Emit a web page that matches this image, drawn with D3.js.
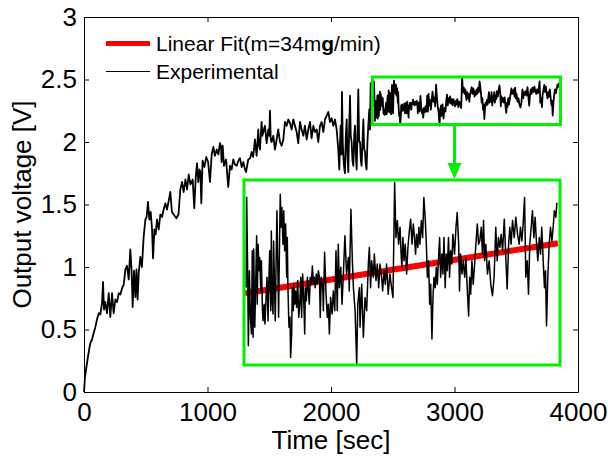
<!DOCTYPE html>
<html><head><meta charset="utf-8">
<script src="https://cdn.jsdelivr.net/npm/d3@7"></script>
<style>html,body{margin:0;padding:0;background:#fff}</style>
</head><body><svg id="chart" width="608" height="456"></svg>
<script>
// ---------- data ----------
const xTicks = [0, 1000, 2000, 3000, 4000];
const xTickLabels = ["0", "1000", "2000", "3000", "4000"];
const yTicks = [0, 0.5, 1, 1.5, 2, 2.5, 3];
const yTickLabels = ["0", "0.5", "1", "1.5", "2", "2.5", "3"];

// Experimental trace, first part (sec, V)
const earlyTime = [
  0,8,24,40,51,65,78,92,105,119,
  132,146,154,162,172,186,200,213,227,240,
  254,268,281,295,308,322,335,348,362,375,
  385,394,405,416,425,434,443,456,469,483,
  497,507,518,529,540,551,559,570,580,591,
  605,618,632,645,659,672,686,699,712,726,
  748,765,780,794,807,821,835,848,862,880,
  893,905,915,925,935,942,950,960,975,990,
  1005,1020,1034,1047,1060,1075,1088,1101,1110,1114,
  1123,1133,1150,1168,1182,1195,1209,1222,1236,1250,
  1263,1277,1290,1301,1312,1330,1345,1357,1370,1384,
  1398,1411,1418,1425,1438,1445,1452,1465,1479,1492,
  1500,1506,1512,1519,1533,1546,1560,1573,1587,1600,
  1614,1627,1641,1654,1668,1681,1695,1708,1722,1735,
  1749,1762,1776,1789,1803,1816,1830,1843,1857,1870,
  1884,1897,1911,1924,1938,1951,1965,1978,1992,2005,
  2019,2032,2046,2059,2067,2072,2078,2084,2089,2095,
  2100,2106,2113,2120,2127,2133,2140,2147,2154,2160,
  2167,2174,2181,2188,2194,2201,2208,2215,2221,2228,
  2235,2242,2248,2255,2262,2268,2275,2282,2288,2295,
  2302,2310,2316,2321,2330
];
const earlyVoltage = [
  0.00,0.12,0.23,0.33,0.39,0.42,0.47,0.52,0.58,0.63,
  0.62,0.71,0.88,0.66,0.72,0.63,0.79,0.60,0.79,0.63,
  0.74,0.72,0.79,0.78,0.83,0.86,0.98,1.01,0.90,1.14,
  0.98,0.68,0.97,0.76,0.98,0.74,0.95,1.08,1.00,1.24,
  1.38,1.40,1.52,1.38,1.44,1.30,1.07,1.30,1.26,1.38,
  1.30,1.42,1.40,1.46,1.51,1.46,1.53,1.60,1.44,1.42,
  1.39,1.42,1.62,1.68,1.60,1.70,1.62,1.74,1.66,1.70,
  1.47,1.72,1.83,1.68,1.78,1.76,1.51,1.85,1.80,1.88,
  1.84,1.68,1.90,1.96,1.89,1.94,1.90,1.99,1.96,1.84,
  1.97,1.81,1.86,1.64,1.81,1.78,1.86,1.82,1.81,1.85,
  1.87,1.80,1.84,1.79,1.76,1.86,1.87,1.92,1.88,2.02,
  1.89,2.10,1.97,1.94,2.16,2.05,2.08,2.13,1.99,2.10,
  2.05,2.25,2.02,2.00,2.05,1.94,2.02,2.10,2.00,1.97,
  2.02,2.16,2.13,2.18,2.15,2.10,2.18,2.13,2.08,1.99,
  2.16,2.10,2.05,2.13,2.02,2.10,2.16,2.03,2.13,2.08,
  2.10,2.00,2.13,2.16,2.08,2.18,2.21,2.24,2.16,2.19,
  2.13,2.18,2.10,1.94,1.78,1.95,2.13,1.90,2.40,2.00,
  1.89,1.80,1.75,2.05,2.18,1.90,1.76,2.10,2.37,2.05,
  2.00,1.85,1.81,2.05,2.13,1.90,1.78,2.10,2.42,2.00,
  2.00,1.85,1.81,2.00,2.18,1.95,1.92,1.82,1.78,2.00,
  2.13,2.26,2.10,2.47,2.30
];

// Experimental trace, zoomed part (sec, V) - shown in the small box and the inset
const zoomTime = [
  2345,2348,2353,2356,2361,2366,2371,2375,2379,2382,
  2387,2391,2396,2399,2403,2408,2411,2416,2419,2424,
  2427,2432,2436,2441,2446,2451,2454,2459,2464,2467,
  2470,2475,2478,2483,2486,2490,2494,2499,2502,2506,
  2510,2515,2518,2523,2527,2531,2536,2541,2544,2547,
  2552,2557,2560,2565,2568,2573,2576,2580,2584,2589,
  2594,2599,2604,2609,2613,2618,2623,2628,2631,2636,
  2641,2645,2650,2655,2660,2665,2670,2674,2679,2684,
  2689,2694,2699,2703,2708,2715,
  2718,2724,2731,2737,2742,2747,2753,2760,2766,2773,
  2779,2785,2790,2795,2802,2808,2814,2822,2830,2839,
  2843,2851,2858,2863,2871,2879,2884,2892,2895,2903,
  2911,2919,2927,2935,2940,2946,2951,2959,2964,2972,
  2978,2985,2991,2999,3004,3011,3017,3023,3031,3039,
  3047,3054,3062,3068,3075,3081,3088,3094,
  3097,3102,3107,3113,3120,3126,3133,3139,3146,3152,
  3158,3163,3168,3174,3179,3184,3191,3197,3203,3210,
  3215,3220,3226,3231,3236,3242,3247,3252,3258,3263,
  3268,3274,3279,3284,3290,3295,3300,3306,3311,3316,
  3322,3327,3332,3338,3343,3351,3358,3364,3371,3375,
  3380,3387,3393,3400,3406,3412,3419,3424,3429,3435,
  3441,3448,3454,3461,3467,
  3473,3480,3486,3491,3496,3502,3510,3518,3526,3534,
  3542,3550,3557,3563,3570,3576,3583,3591,3599,3605,
  3612,3618,3624,3631,3639,3647,3655,3663,3669,3676,
  3682,3689,3695,3702,3708,3714,3721,3727,3734,3740,
  3747,3753,3760,3766,3772,3779,3785,3790,3795,3801,
  3808,3814,3821,3827,3833,3840,3845
];
const zoomVoltage = [
  2.293,2.484,2.315,2.170,2.329,2.230,2.195,2.371,2.188,2.375,
  2.209,2.293,2.403,2.258,2.385,2.329,2.357,2.286,2.350,2.244,
  2.223,2.258,2.216,2.265,2.315,2.223,2.293,2.371,2.244,2.413,
  2.272,2.237,2.392,2.279,2.223,2.350,2.456,2.315,2.230,2.371,
  2.491,2.421,2.463,2.385,2.456,2.371,2.428,2.315,2.399,2.293,
  2.209,2.230,2.145,2.195,2.293,2.244,2.301,2.258,2.286,2.251,
  2.308,2.230,2.258,2.315,2.230,2.322,2.272,2.195,2.293,2.265,
  2.315,2.293,2.258,2.315,2.301,2.339,2.301,2.315,2.293,2.322,
  2.301,2.329,2.315,2.230,2.315,2.293,
  2.244,2.368,2.279,2.230,2.258,2.195,2.272,2.237,2.286,2.244,
  2.371,2.244,2.385,2.293,2.336,2.258,2.315,2.403,2.322,2.357,
  2.286,2.459,2.350,2.293,2.244,2.131,2.258,2.293,2.209,2.300,
  2.188,2.272,2.244,2.343,2.378,2.293,2.350,2.315,2.364,2.308,
  2.343,2.293,2.343,2.315,2.286,2.329,2.300,2.343,2.279,2.322,
  2.293,2.272,2.516,2.399,2.435,2.385,2.421,2.357,
  2.336,2.399,2.350,2.385,2.322,2.378,2.413,2.438,2.385,2.428,
  2.399,2.364,2.406,2.378,2.421,2.385,2.435,2.399,2.484,2.435,
  2.385,2.315,2.350,2.258,2.300,2.184,2.272,2.315,2.293,2.336,
  2.300,2.357,2.399,2.315,2.364,2.322,2.399,2.293,2.364,2.329,
  2.399,2.315,2.371,2.343,2.406,2.364,2.421,2.452,2.385,2.286,
  2.364,2.322,2.350,2.315,2.357,2.293,2.233,2.315,2.279,2.350,
  2.300,2.343,2.385,2.428,2.385,
  2.392,2.421,2.364,2.435,2.350,2.385,2.322,2.350,2.300,2.276,
  2.315,2.421,2.350,2.399,2.378,2.406,2.371,2.438,2.350,2.290,
  2.385,2.421,2.385,2.435,2.399,2.442,2.406,2.385,2.421,2.392,
  2.428,2.484,2.315,2.350,2.279,2.385,2.421,2.456,2.399,2.442,
  2.385,2.350,2.399,2.364,2.421,2.350,2.293,2.329,2.212,2.315,
  2.385,2.421,2.392,2.421,2.456,2.442,2.473
];

// Linear fit over the zoomed window (sec, V)
const fitTime = [2340, 3850];
const fitVoltage = [2.281, 2.387];

// Zoom window (small green box) and the inset's value window
const zoomWindowTime = [2335, 3858];
const zoomWindowVoltage = [2.14, 2.52];
const insetWindowTime = [2335, 3860];
const insetWindowVoltage = [2.128, 2.52];
const arrowTime = 3000;

// ---------- drawing ----------
const FONT = "'Liberation Sans', Arial, Helvetica, sans-serif";
const svg = d3.select('#chart');
const plot = {left: 84, right: 578, top: 17, bottom: 392};
const insetBox = {left: 244, right: 560, top: 180, bottom: 365};
const GREEN = '#00f000';

const x = d3.scaleLinear().domain([0, 4000]).range([plot.left, plot.right]);
const y = d3.scaleLinear().domain([0, 3]).range([plot.bottom, plot.top]);

function styleAxis(g, showText) {
  g.selectAll('path.domain').attr('stroke', '#000').attr('stroke-width', 1);
  g.selectAll('.tick line').attr('stroke', '#000').attr('stroke-width', 1);
  g.selectAll('text').attr('font-family', FONT).attr('font-size', 26).attr('fill', '#000');
  if (!showText) g.selectAll('text').remove();
}

svg.append('g').attr('transform', `translate(0,${plot.bottom})`)
  .call(d3.axisBottom(x).tickValues(xTicks).tickFormat((d, i) => xTickLabels[i])
    .tickSizeInner(-5).tickSizeOuter(0).tickPadding(11))
  .call(g => styleAxis(g, true));
svg.append('g').attr('transform', `translate(0,${plot.top})`)
  .call(d3.axisTop(x).tickValues(xTicks).tickSizeInner(-5).tickSizeOuter(0))
  .call(g => styleAxis(g, false));
svg.append('g').attr('transform', `translate(${plot.left},0)`)
  .call(d3.axisLeft(y).tickValues(yTicks).tickFormat((d, i) => yTickLabels[i])
    .tickSizeInner(-5).tickSizeOuter(0).tickPadding(7))
  .call(g => styleAxis(g, true));
svg.append('g').attr('transform', `translate(${plot.right},0)`)
  .call(d3.axisRight(y).tickValues(yTicks).tickSizeInner(-5).tickSizeOuter(0))
  .call(g => styleAxis(g, false));

// axis titles
svg.append('text').attr('x', (plot.left + plot.right) / 2).attr('y', 449)
  .attr('text-anchor', 'middle').attr('font-family', FONT).attr('font-size', 26)
  .text('Time [sec]');
svg.append('text').attr('transform', `translate(31,${(plot.top + plot.bottom) / 2}) rotate(-90)`)
  .attr('text-anchor', 'middle').attr('font-family', FONT).attr('font-size', 26)
  .text('Output voltage [V]');

// main experimental trace
const allTime = earlyTime.concat(zoomTime);
const allVoltage = earlyVoltage.concat(zoomVoltage);
const mainLine = d3.line().x(i => x(allTime[i])).y(i => y(allVoltage[i]));
svg.append('path').attr('d', mainLine(d3.range(allTime.length)))
  .attr('fill', 'none').attr('stroke', '#000').attr('stroke-width', 1.8)
  .attr('stroke-linejoin', 'round');

// small zoom box
svg.append('rect')
  .attr('x', x(zoomWindowTime[0])).attr('y', y(zoomWindowVoltage[1]))
  .attr('width', x(zoomWindowTime[1]) - x(zoomWindowTime[0]))
  .attr('height', y(zoomWindowVoltage[0]) - y(zoomWindowVoltage[1]))
  .attr('fill', 'none').attr('stroke', GREEN).attr('stroke-width', 3);

// arrow
const ax = x(arrowTime);
svg.append('line').attr('x1', ax).attr('x2', ax)
  .attr('y1', y(zoomWindowVoltage[0])).attr('y2', insetBox.top - 14)
  .attr('stroke', GREEN).attr('stroke-width', 3);
svg.append('path')
  .attr('d', `M${ax - 7},${insetBox.top - 17} L${ax + 7},${insetBox.top - 17} L${ax},${insetBox.top - 1} Z`)
  .attr('fill', GREEN);

// inset
const ix = d3.scaleLinear().domain(insetWindowTime).range([insetBox.left, insetBox.right]);
const iy = d3.scaleLinear().domain(insetWindowVoltage).range([insetBox.bottom + 0.5, insetBox.top + 0.5]);
svg.append('rect')
  .attr('x', insetBox.left).attr('y', insetBox.top)
  .attr('width', insetBox.right - insetBox.left).attr('height', insetBox.bottom - insetBox.top)
  .attr('fill', '#fff').attr('stroke', 'none');
svg.append('line')
  .attr('x1', ix(fitTime[0])).attr('y1', iy(fitVoltage[0]))
  .attr('x2', ix(fitTime[1])).attr('y2', iy(fitVoltage[1]))
  .attr('stroke', '#ff0000').attr('stroke-width', 6);
const insetLine = d3.line().x(i => ix(zoomTime[i])).y(i => iy(zoomVoltage[i]));
svg.append('path').attr('d', insetLine(d3.range(zoomTime.length)))
  .attr('fill', 'none').attr('stroke', '#000').attr('stroke-width', 1.5)
  .attr('stroke-linejoin', 'round');
svg.append('rect')
  .attr('x', insetBox.left).attr('y', insetBox.top)
  .attr('width', insetBox.right - insetBox.left).attr('height', insetBox.bottom - insetBox.top)
  .attr('fill', 'none').attr('stroke', GREEN).attr('stroke-width', 3);

// legend
const leg = svg.append('g');
leg.append('line').attr('x1', 106).attr('x2', 150).attr('y1', 43.5).attr('y2', 43.5)
  .attr('stroke', '#ff0000').attr('stroke-width', 5);
const t1 = leg.append('text').attr('x', 156).attr('y', 51)
  .attr('font-family', FONT).attr('font-size', 21);
t1.append('tspan').text('Linear Fit(m=34m');
t1.append('tspan').attr('font-weight', 'bold').text('g');
t1.append('tspan').text('/min)');
leg.append('line').attr('x1', 106).attr('x2', 150).attr('y1', 71.5).attr('y2', 71.5)
  .attr('stroke', '#000').attr('stroke-width', 1.2);
leg.append('text').attr('x', 156).attr('y', 79)
  .attr('font-family', FONT).attr('font-size', 21).text('Experimental');
</script>
</body></html>
